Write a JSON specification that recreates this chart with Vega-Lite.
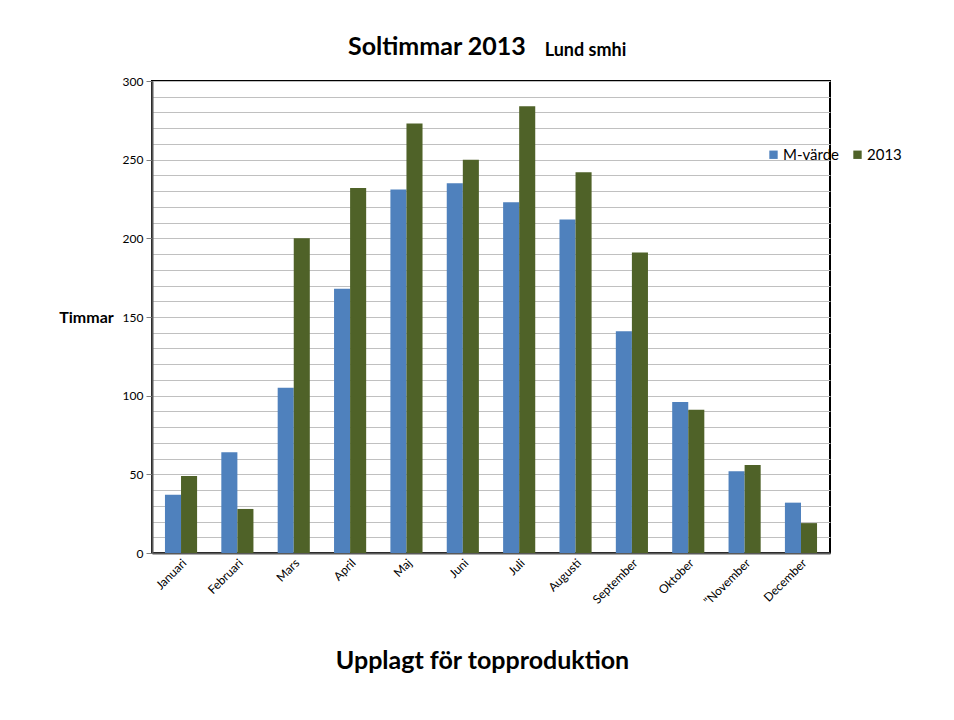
{
  "$schema": "https://vega.github.io/schema/vega-lite/v6.json",
  "width": 678,
  "height": 472,
  "autosize": {"type": "none"},
  "padding": {"left": 152, "top": 81, "right": 124, "bottom": 167},
  "background": "white",
  "title": {
    "text": "Soltimmar 2013",
    "anchor": "start",
    "frame": "group",
    "align": "left",
    "dx": 196,
    "font": "Lato",
    "fontSize": 25,
    "fontWeight": "bold",
    "color": "#000000",
    "baseline": "alphabetic",
    "offset": -39
  },
  "data": {
    "values": [
      {"month": "Januari", "series": "M-värde", "value": 37},
      {"month": "Januari", "series": "2013", "value": 49},
      {"month": "Februari", "series": "M-värde", "value": 64},
      {"month": "Februari", "series": "2013", "value": 28},
      {"month": "Mars", "series": "M-värde", "value": 105},
      {"month": "Mars", "series": "2013", "value": 200},
      {"month": "April", "series": "M-värde", "value": 168},
      {"month": "April", "series": "2013", "value": 232},
      {"month": "Maj", "series": "M-värde", "value": 231},
      {"month": "Maj", "series": "2013", "value": 273},
      {"month": "Juni", "series": "M-värde", "value": 235},
      {"month": "Juni", "series": "2013", "value": 250},
      {"month": "Juli", "series": "M-värde", "value": 223},
      {"month": "Juli", "series": "2013", "value": 284},
      {"month": "Augusti", "series": "M-värde", "value": 212},
      {"month": "Augusti", "series": "2013", "value": 242},
      {"month": "September", "series": "M-värde", "value": 141},
      {"month": "September", "series": "2013", "value": 191},
      {"month": "Oktober", "series": "M-värde", "value": 96},
      {"month": "Oktober", "series": "2013", "value": 91},
      {"month": "\"November", "series": "M-värde", "value": 52},
      {"month": "\"November", "series": "2013", "value": 56},
      {"month": "December", "series": "M-värde", "value": 32},
      {"month": "December", "series": "2013", "value": 19}
    ]
  },
  "layer": [
    {
      "mark": {"type": "bar"},
      "encoding": {
        "x": {
          "field": "month",
          "type": "nominal",
          "sort": ["Januari", "Februari", "Mars", "April", "Maj", "Juni", "Juli", "Augusti", "September", "Oktober", "\"November", "December"],
          "scale": {"paddingInner": 0.43, "paddingOuter": 0.23},
          "axis": {
            "title": "Upplagt för topproduktion",
            "titleFont": "Lato",
            "titleFontSize": 25,
            "titleFontWeight": "bold",
            "titleColor": "#000000",
            "titleX": 330,
            "titleY": 107,
            "titleAlign": "center",
            "titleBaseline": "middle",
            "labelAngle": -45,
            "labelFont": "Lato",
            "labelFontSize": 12,
            "labelColor": "#000000",
            "labelPadding": 4,
            "ticks": false,
            "domainColor": "#595959",
            "domainWidth": 2,
            "grid": false
          }
        },
        "xOffset": {
          "field": "series",
          "type": "nominal",
          "sort": ["M-värde", "2013"],
          "scale": {"paddingInner": 0, "paddingOuter": 0}
        },
        "y": {
          "field": "value",
          "type": "quantitative",
          "scale": {"domain": [0, 300], "nice": false},
          "axis": {
            "title": "Timmar",
            "titleFont": "Lato",
            "titleFontSize": 16,
            "titleFontWeight": "bold",
            "titleColor": "#000000",
            "titleAngle": 0,
            "titleAlign": "center",
            "titleBaseline": "middle",
            "titleX": -66,
            "titleY": 236,
            "values": [0, 10, 20, 30, 40, 50, 60, 70, 80, 90, 100, 110, 120, 130, 140, 150, 160, 170, 180, 190, 200, 210, 220, 230, 240, 250, 260, 270, 280, 290, 300],
            "labelExpr": "datum.value % 50 == 0 ? datum.label : ''",
            "labelFont": "Lato",
            "labelFontSize": 12,
            "labelColor": "#000000",
            "labelPadding": 3,
            "tickSize": 6,
            "tickColor": "#808080",
            "tickOpacity": {"condition": {"test": "datum.value % 50 == 0", "value": 1}, "value": 0},
            "domainColor": "#595959",
            "domainWidth": 2,
            "grid": true,
            "gridColor": "#C0C0C0",
            "gridWidth": 1
          }
        },
        "color": {
          "field": "series",
          "type": "nominal",
          "sort": ["M-värde", "2013"],
          "scale": {"domain": ["M-värde", "2013"], "range": ["#4F81BD", "#4F6228"]},
          "legend": {
            "title": null,
            "orient": "none",
            "legendX": 614,
            "legendY": 66,
            "direction": "horizontal",
            "symbolType": "square",
            "symbolSize": 70,
            "symbolStrokeWidth": 0,
            "labelFont": "Lato",
            "labelFontSize": 15,
            "labelColor": "#000000",
            "labelOffset": 2,
            "columnPadding": 10
          }
        }
      }
    },
    {
      "mark": {"type": "rule", "strokeOpacity": 0},
      "encoding": {
        "y": {
          "datum": 0,
          "type": "quantitative",
          "axis": {
            "orient": "right",
            "title": "Lund smhi",
            "titleFont": "Lato",
            "titleFontSize": 18,
            "titleFontWeight": "bold",
            "titleColor": "#000000",
            "titleAngle": 0,
            "titleAlign": "center",
            "titleBaseline": "alphabetic",
            "titleX": -245,
            "titleY": -26,
            "labels": false,
            "ticks": false,
            "domain": false,
            "grid": false
          }
        }
      }
    }
  ],
  "resolve": {"axis": {"y": "independent"}},
  "config": {
    "view": {"stroke": "#000000", "strokeWidth": 2}
  }
}
